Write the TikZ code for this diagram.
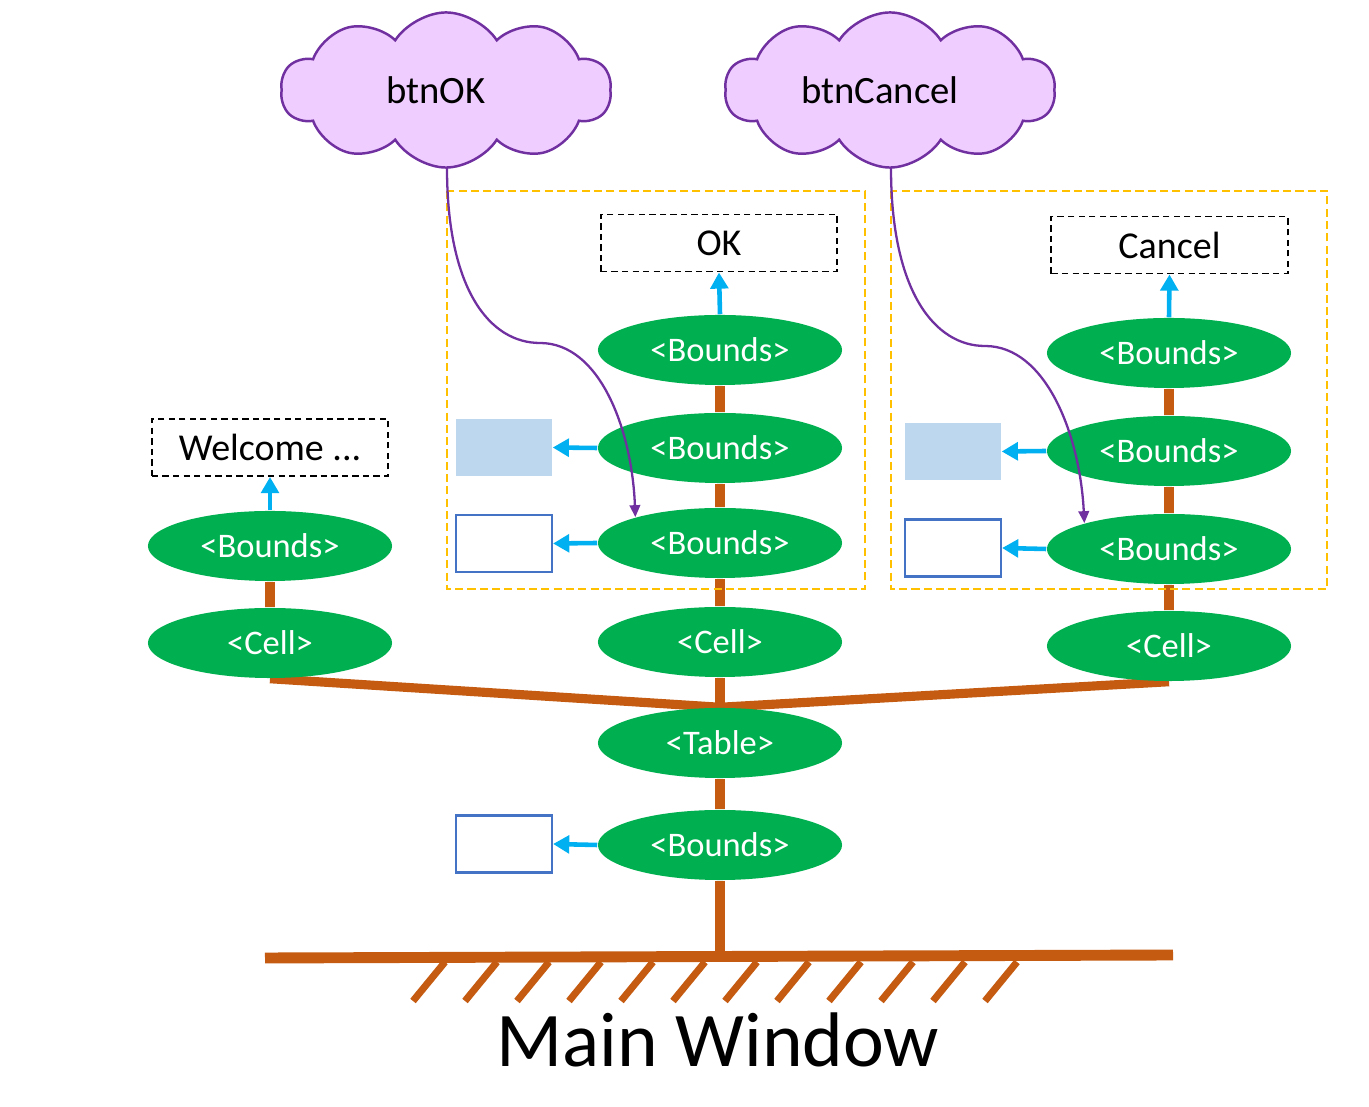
\documentclass[tikz,border=0pt]{standalone}
\usepackage{fontspec}
\setmainfont{Carlito}
\usetikzlibrary{shapes.geometric,shapes.symbols,arrows.meta,backgrounds}
\definecolor{grn}{HTML}{00B050}
\definecolor{brn}{HTML}{C55A11}
\definecolor{skyb}{HTML}{00B0F0}
\definecolor{org}{HTML}{FFC000}
\definecolor{ltb}{HTML}{BDD7EE}
\definecolor{rbl}{HTML}{4472C4}
\definecolor{purp}{HTML}{7030A0}
\definecolor{cloudf}{HTML}{F0CDFF}
\begin{document}
\begin{tikzpicture}[x=0.01cm,y=-0.01cm,
  ell/.style={ellipse, fill=grn, minimum width=2.44cm, minimum height=0.70cm, inner sep=0pt, text=white, font=\fontsize{9.8}{11}\selectfont},
  lbl/.style={draw=black, dash pattern=on 1.8pt off 1.2pt, line width=0.55pt, minimum width=2.36cm, minimum height=0.57cm, inner sep=0pt, font=\fontsize{10.8}{13}\selectfont},
  fillrect/.style={fill=ltb, minimum width=0.96cm, minimum height=0.57cm, inner sep=0pt},
  emptyrect/.style={draw=rbl, line width=0.6pt, fill=white, minimum width=0.96cm, minimum height=0.57cm, inner sep=0pt},
  trunk/.style={brn, line width=2.6pt},
  blar/.style={skyb, line width=1.3pt, -{Triangle[length=4.6pt,width=5pt]}},
  purar/.style={purp, line width=0.65pt, -{Triangle[length=3.4pt,width=3pt]}},
  grp/.style={org, line width=0.55pt, dash pattern=on 2.3pt off 1.2pt},
  cld/.style={cloud, cloud puffs=10, cloud puff arc=115, cloud ignores aspect, draw=purp, line width=0.7pt, fill=cloudf, minimum width=3.3cm, minimum height=1.55cm, inner sep=0pt, font=\fontsize{11}{13}\selectfont}
]
\useasboundingbox (0,0) rectangle (1369,1107);

% group boxes
\draw[grp] (447,191) rectangle (865,589);
\draw[grp] (891,191) rectangle (1327,589);

% clouds
\node[cld] (cok) at (446,90) {btnOK\hspace*{0.2cm}};
\node[cld] (ccan) at (890,90) {btnCancel\hspace*{0.2cm}};

% column 1
\node[ell] (b1) at (270,546) {<Bounds>};
\node[ell] (c1) at (270,643) {<Cell>};
\node[lbl] (w1) at (270,447.5) {Welcome ...};

% column 2
\node[ell] (b2a) at (720,350) {<Bounds>};
\node[ell] (b2b) at (720,448) {<Bounds>};
\node[ell] (b2c) at (720,543) {<Bounds>};
\node[ell] (c2) at (720,642) {<Cell>};
\node[ell] (tbl) at (720,743) {<Table>};
\node[ell] (b0) at (720,845) {<Bounds>};
\node[lbl] (ok) at (719,243) {OK};
\node[fillrect] (r2b) at (504,447.5) {};
\node[emptyrect] (r2c) at (504,543.5) {};
\node[emptyrect] (r0) at (504,844) {};

% column 3
\node[ell] (b3a) at (1169,353) {<Bounds>};
\node[ell] (b3b) at (1169,451) {<Bounds>};
\node[ell] (b3c) at (1169,549) {<Bounds>};
\node[ell] (c3) at (1169,646) {<Cell>};
\node[lbl] (can) at (1169.5,245) {Cancel};
\node[fillrect] (r3b) at (953,451.5) {};
\node[emptyrect] (r3c) at (953,548) {};

% ground
\coordinate (gl) at (265,958);
\coordinate (gr) at (1173,955);
\coordinate (gm) at (720,957);
\node[font=\fontsize{22}{26}\selectfont] (mw) at (718,1040) {Main Window};

\begin{scope}[on background layer]
  \draw[trunk] (b1) -- (c1);
  \draw[trunk] (b2a) -- (b2b) -- (b2c) -- (c2) -- (tbl) -- (b0);
  \draw[trunk] (b3a) -- (b3b) -- (b3c) -- (c3);
  \draw[trunk, line join=miter] (c1.south) -- (tbl.north) -- (c3.south);
  \draw[trunk] (b0) -- (gm);
\end{scope}
\draw[brn, line width=3.1pt] (gl) -- (gr);
\foreach \i in {0,...,11} {
  \draw[brn, line width=2pt] ({445+52*\i},962) -- ({413+52*\i},1001);
}

% blue arrows
\draw[blar] (b1.north) -- (w1.south);
\draw[blar] (b2a.north) -- (ok.south);
\draw[blar] (b3a.north) -- (can.south);
\draw[blar] (b2b.west) -- (r2b.east);
\draw[blar] (b2c.west) -- (r2c.east);
\draw[blar] (b3b.west) -- (r3b.east);
\draw[blar] (b3c.west) -- (r3c.east);
\draw[blar] (b0.west) -- (r0.east);

% purple references
\coordinate (okstart) at (447,168);
\coordinate (canstart) at (891,168);
\draw[purar] (okstart) .. controls (447,290) and (490,343) .. (540,343) .. controls (600,343) and (632,430) .. (b2c.163);
\draw[purar] (canstart) .. controls (891,292) and (935,346) .. (985,346) .. controls (1046,346) and (1080,435) .. (b3c.163);
\end{tikzpicture}
\end{document}
